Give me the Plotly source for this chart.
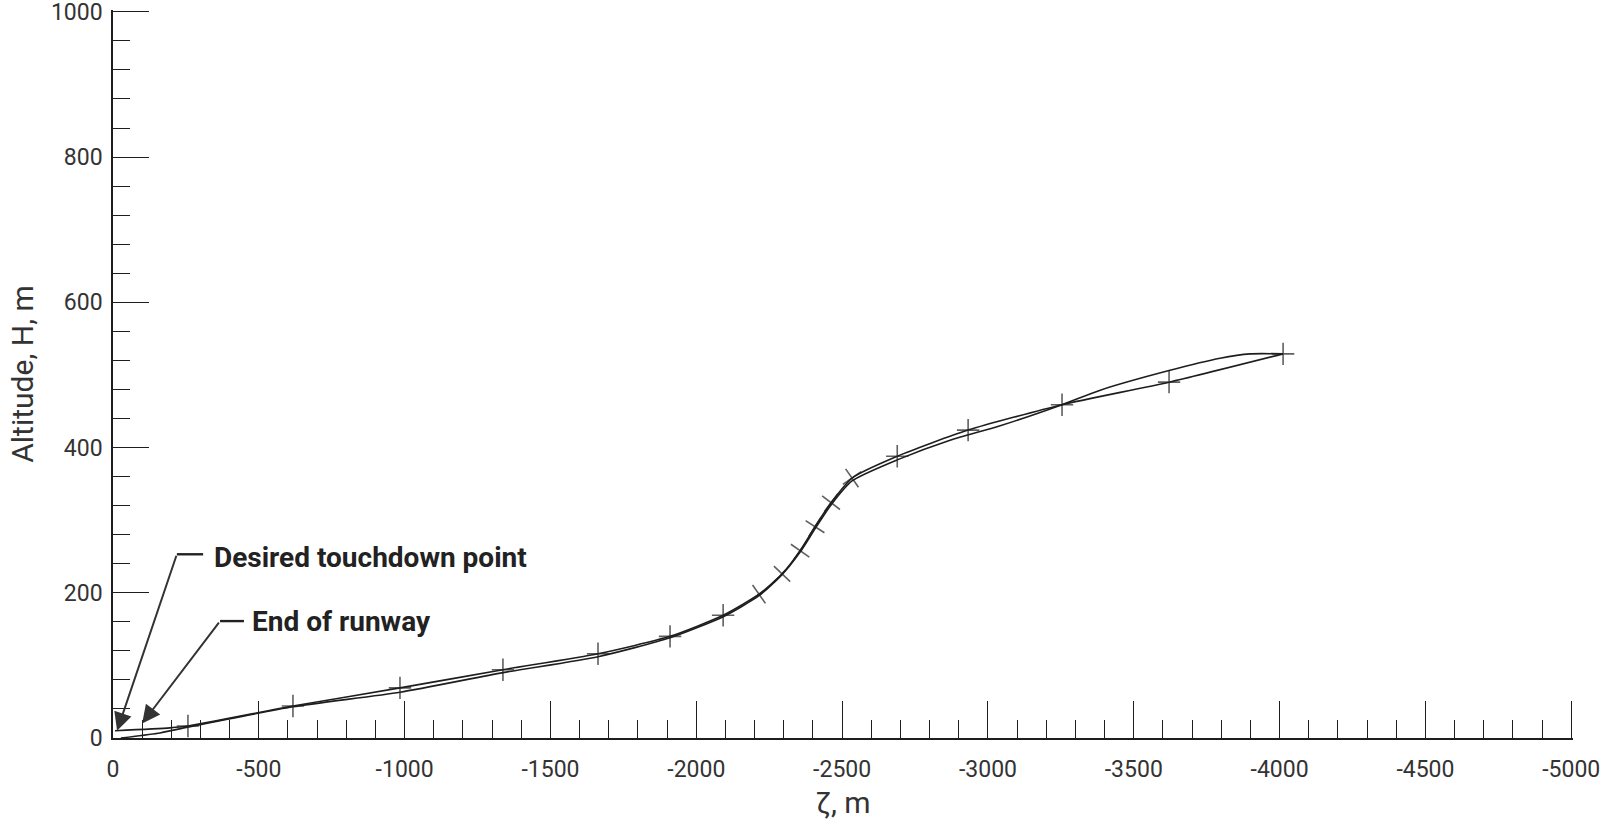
import numpy as np
import plotly.graph_objects as go

# ---- data ----
zeta_flight = [-7, -195, -257, -617, -984, -1337, -1663, -1910, -2092, -2215, -2294,
               -2356, -2407, -2462, -2534, -2689, -2932, -3254, -3621, -4012]
alt_flight = [10, 14, 16.5, 44, 69, 94, 116, 140, 169, 198, 226,
              258, 291, 324, 358, 388, 424, 459, 490, 529]
flight_marked = [0, 0] + [1] * 18

zeta_ref = [-27, -161, -257, -617, -984, -1337, -1663, -1910, -2092, -2215, -2294,
            -2356, -2407, -2462, -2534, -2689, -2870, -3042, -3254, -3385, -3621,
            -3796, -3899, -4012]
alt_ref = [0, 7, 15, 43, 63, 90, 112, 138, 167, 196, 225,
           256, 288, 321, 354, 383, 410, 430, 459, 479, 506,
           523, 529, 529]

x_ticks = [0, -500, -1000, -1500, -2000, -2500, -3000, -3500, -4000, -4500, -5000]
x_ticktext = ["0", "-500", "-1000", "-1500", "-2000", "-2500", "-3000", "-3500",
              "-4000", "-4500", "-5000"]
y_ticks = [0, 200, 400, 600, 800, 1000]
y_ticktext = ["0", "200", "400", "600", "800", "1000"]

touchdown_zeta, touchdown_alt = -14, 10
runway_end_zeta, runway_end_alt = -100, 20

# ---- layout constants ----
W, H = 1618, 824
ML, MR, MT, MB = 113, 45, 10, 86
X_RANGE = [0, -5006]
Y_RANGE = [0, 1002.5]
INK = "#1e1e1e"
TICK_FONT = dict(family="Roboto, 'Open Sans', sans-serif", size=23, color="#333")
NOTE_FONT = dict(family="Roboto, sans-serif", size=28, color="#222", weight="bold")
TITLE_FONT = dict(family="Roboto, sans-serif", size=30, color="#333")

# marker orientation: steep parts of the path get crosses turned with the path
px_per_x = (W - ML - MR) / abs(X_RANGE[1] - X_RANGE[0])
px_per_y = (H - MT - MB) / (Y_RANGE[1] - Y_RANGE[0])
zf = np.array(zeta_flight, float)
af = np.array(alt_flight, float)
dx = -np.gradient(zf) * px_per_x
dy = np.gradient(af) * px_per_y
theta = np.degrees(np.arctan2(dy, dx))
angles = [float(-t) if t > 30 else 0.0 for t in theta]

fig = go.Figure()
fig.add_trace(go.Scatter(
    x=zeta_ref, y=alt_ref, mode="lines",
    line=dict(color=INK, width=1.6, shape="spline", smoothing=0.6),
    hoverinfo="skip", showlegend=False, cliponaxis=False))
fig.add_trace(go.Scatter(
    x=zeta_flight, y=alt_flight, mode="lines+markers",
    line=dict(color=INK, width=1.6, shape="spline", smoothing=0.6),
    marker=dict(symbol="cross-thin", size=[16 * m for m in flight_marked],
                angle=angles, line=dict(color=INK, width=1.6), color=INK),
    showlegend=False, cliponaxis=False))

# leaders and arrows for the notes
notes = [
    ("Desired touchdown point", touchdown_zeta, touchdown_alt, -219, 253, -309, -340, 249),
    ("End of runway", runway_end_zeta, runway_end_alt, -367, 161, -449, -470, 160),
]
for text, tx, ty, ax, ay, lx, txt_x, txt_y in notes:
    fig.add_shape(type="line", x0=ax, y0=ay, x1=lx, y1=ay,
                  line=dict(color="#222", width=2.4))
    fig.add_annotation(x=tx, y=ty, ax=ax, ay=ay, axref="x", ayref="y",
                       text="", showarrow=True, arrowhead=2, arrowsize=1.8,
                       arrowwidth=2, arrowcolor="#333")
    fig.add_annotation(x=txt_x, y=txt_y, text=text, showarrow=False,
                       xanchor="left", yanchor="middle", font=NOTE_FONT)

axis_common = dict(showline=True, linecolor=INK, linewidth=1.6, showgrid=False,
                   zeroline=False, ticks="inside", tickcolor=INK, tickwidth=1.4,
                   tickfont=TICK_FONT, fixedrange=True, ticklabeloverflow="allow",
                   automargin=False)

fig.update_xaxes(range=X_RANGE, tickmode="array", tickvals=x_ticks, ticktext=x_ticktext,
                 ticklen=37, ticklabelstandoff=10,
                 minor=dict(ticks="inside", dtick=100, tick0=0, ticklen=18,
                            tickcolor=INK, tickwidth=1.2),
                 title=dict(text="ζ, m", font=TITLE_FONT, standoff=10),
                 **axis_common)
fig.update_yaxes(range=Y_RANGE, tickmode="array", tickvals=y_ticks, ticktext=y_ticktext,
                 ticklen=36, ticklabelstandoff=4,
                 minor=dict(ticks="inside", dtick=40, tick0=0, ticklen=17,
                            tickcolor=INK, tickwidth=1.2),
                 title=dict(text="Altitude, H, m", font=TITLE_FONT, standoff=8),
                 **axis_common)

fig.update_layout(width=W, height=H, margin=dict(l=ML, r=MR, t=MT, b=MB),
                  paper_bgcolor="white", plot_bgcolor="white")

fig.write_html("out.html")
